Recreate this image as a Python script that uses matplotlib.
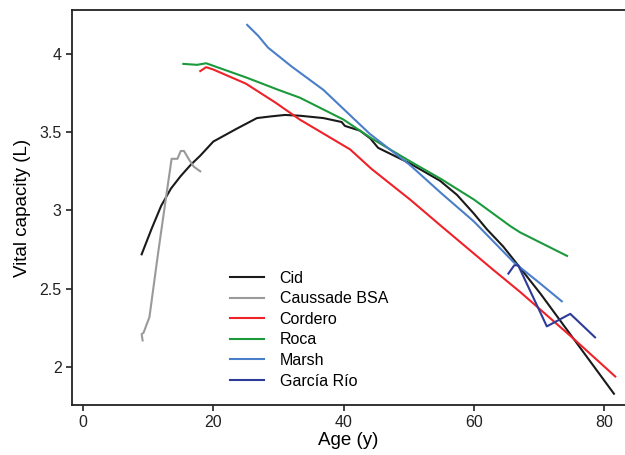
import matplotlib as mpl
mpl.use('Agg')
from matplotlib import pyplot as plt

plt.rcParams['font.family'] = ['Liberation Sans', 'DejaVu Sans']

# reference equations for vital capacity by age
cid_age = [9.0, 10.5, 12.0, 13.5, 15.0, 16.5, 18.0, 20.0, 23.5, 26.7, 28.7, 31.0, 33.3, 36.9,
           39.7, 40.2, 42.5, 44.1, 45.3, 50.2, 54.8, 57.4, 60.0, 62.0, 64.5, 66.6, 70.2, 73.2,
           75.5, 81.5]
cid_vc = [2.72, 2.88, 3.03, 3.14, 3.22, 3.29, 3.35, 3.44, 3.52, 3.59, 3.60, 3.61, 3.605, 3.59,
          3.565, 3.54, 3.51, 3.46, 3.40, 3.30, 3.19, 3.10, 2.98, 2.88, 2.77, 2.66, 2.47, 2.30,
          2.17, 1.83]

caussade_age = [9.15, 9.0, 9.3, 10.2, 11.5, 12.8, 13.6, 14.5, 15.0, 15.5, 16.2, 17.0, 18.0]
caussade_vc = [2.17, 2.21, 2.22, 2.32, 2.72, 3.10, 3.33, 3.33, 3.38, 3.38, 3.33, 3.28, 3.25]

cordero_age = [18.0, 18.9, 20.0, 25.0, 29.5, 33.3, 41.0, 44.3, 50.2, 55.0, 63.0, 67.1, 74.8, 81.7]
cordero_vc = [3.89, 3.915, 3.90, 3.81, 3.69, 3.58, 3.39, 3.265, 3.07, 2.90, 2.62, 2.48, 2.20, 1.94]

roca_age = [15.4, 17.5, 18.9, 25.0, 30.0, 33.3, 40.0, 44.3, 50.2, 55.0, 60.0, 65.6, 67.1, 74.3]
roca_vc = [3.936, 3.93, 3.94, 3.85, 3.77, 3.72, 3.58, 3.46, 3.314, 3.20, 3.07, 2.90, 2.86, 2.71]

marsh_age = [25.2, 26.9, 28.4, 32.0, 36.9, 44.0, 50.2, 55.0, 60.0, 66.1, 70.0, 73.5]
marsh_vc = [4.185, 4.115, 4.04, 3.92, 3.77, 3.49, 3.29, 3.11, 2.93, 2.67, 2.54, 2.42]

garcia_age = [65.3, 66.2, 66.8, 71.2, 74.8, 78.6]
garcia_vc = [2.597, 2.65, 2.65, 2.26, 2.34, 2.19]

series = [
    ('Cid', cid_age, cid_vc, '#1a1a1a'),
    ('Caussade BSA', caussade_age, caussade_vc, '#9a9a9a'),
    ('Cordero', cordero_age, cordero_vc, '#ee2229'),
    ('Roca', roca_age, roca_vc, '#1b9a3c'),
    ('Marsh', marsh_age, marsh_vc, '#4a7ec8'),
    ('García Río', garcia_age, garcia_vc, '#2e3b98'),
]

fig = plt.figure(figsize=(6.25, 4.55), dpi=100)
ax = fig.add_axes([0.1152, 0.1099, 0.8848, 0.8681])

for name, age, vc, col in series:
    ax.plot(age, vc, color=col, lw=1.5, label=name)

ax.set_xlim(-1.69, 83.2)
ax.set_ylim(1.758, 4.28)
ax.set_xticks([0, 20, 40, 60, 80])
ax.set_yticks([2, 2.5, 3, 3.5, 4])
ax.set_yticklabels(['2', '2.5', '3', '3.5', '4'])
ax.spines['right'].set_visible(False)
for s in ['left', 'top', 'bottom']:
    ax.spines[s].set_linewidth(1.3)
    ax.spines[s].set_color('#222222')
ax.tick_params(direction='out', length=4, width=1.2, labelsize=11.5, colors='#222222')
ax.set_xlabel('Age (y)', fontsize=13.5, labelpad=1)
ax.set_ylabel('Vital capacity (L)', fontsize=13.5, labelpad=6)

ax.legend(loc='upper left', bbox_to_anchor=(0.286, 0.34), frameon=False,
          fontsize=11.5, borderpad=0, borderaxespad=0, handlelength=2.1,
          handletextpad=1.0, labelspacing=0.35)

fig.savefig('out.png', dpi=100)
